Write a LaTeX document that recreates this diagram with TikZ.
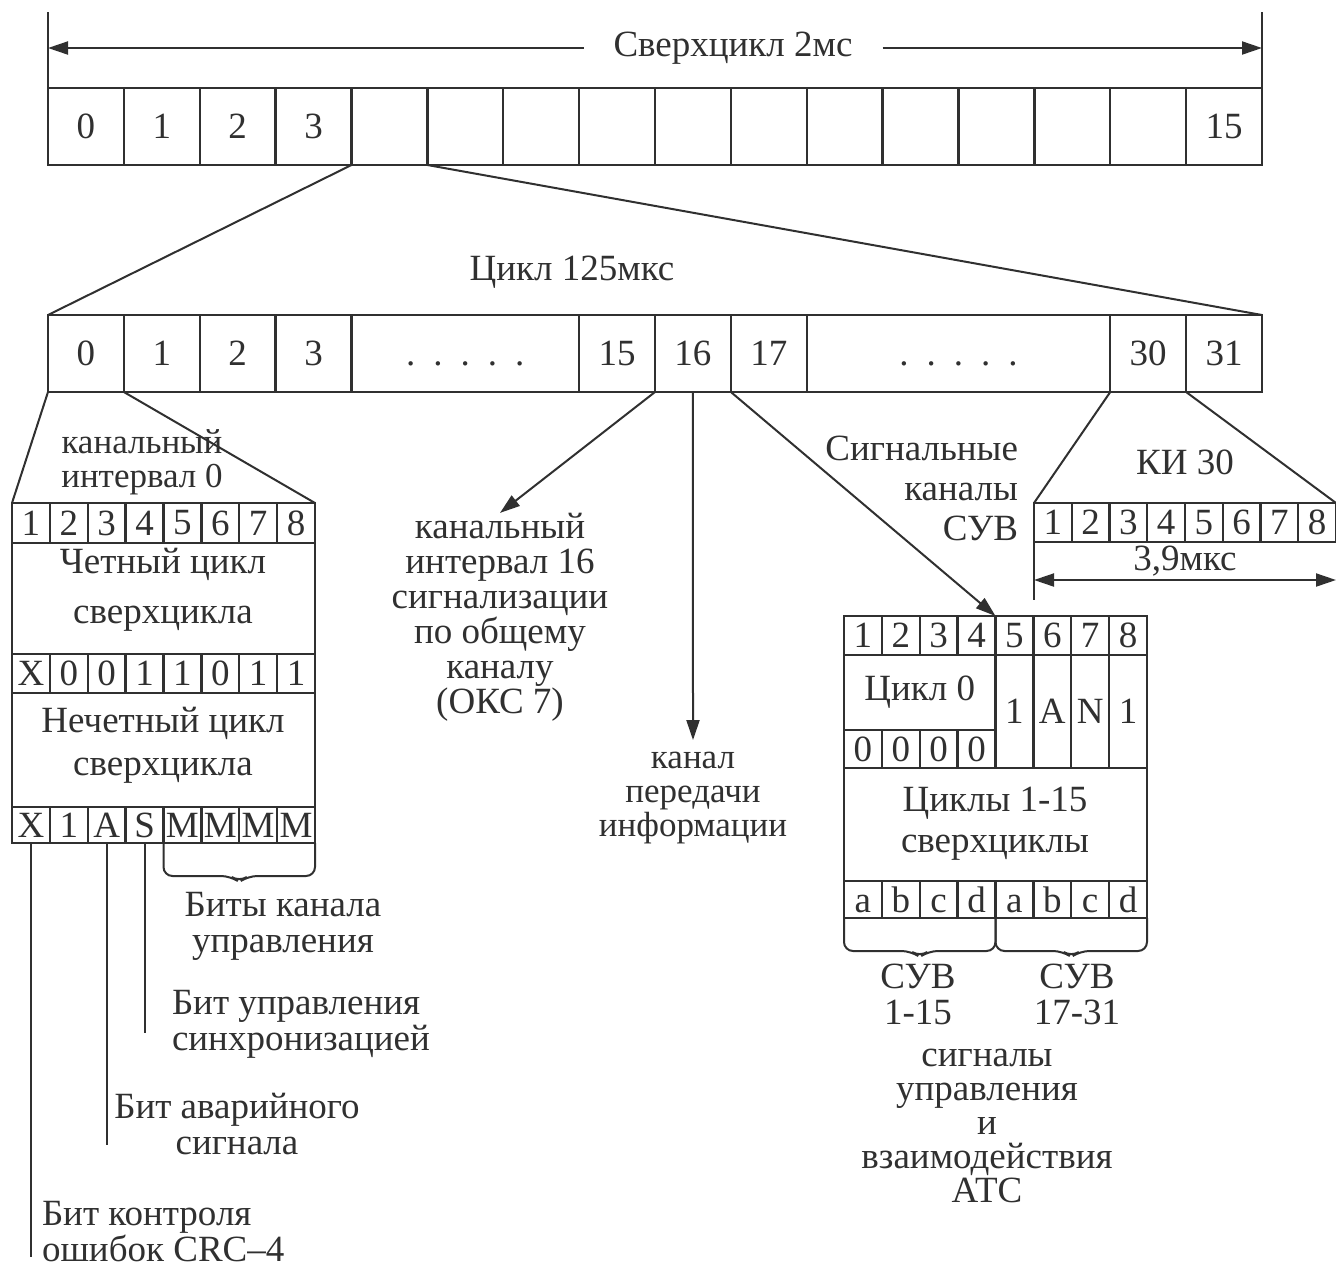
\documentclass[tikz,border=0pt]{standalone}
\usepackage{fontspec}
\setmainfont{Liberation Serif}
\usetikzlibrary{arrows.meta,calc}
\definecolor{ink}{RGB}{48,48,48}
\newcommand\cellat[6]{%
  \pgfmathsetmacro\mycw{(#4)-(#2)}\pgfmathsetmacro\mych{(#5)-(#3)}%
  \node[cellbox, minimum width=\mycw pt, minimum height=\mych pt] (#1) at ({((#2)+(#4))/2},{((#3)+(#5))/2}) {#6};}
\newcommand\bracepath[2]{% #1 left node anchor, #2 right node anchor
  ($(#1)!0.5!(#2)$) coordinate (bmid) 
  (#1) -- ([yshift=-33pt]#1) -- ([xshift=-9pt,yshift=-33pt]bmid) -- ([yshift=-39pt]bmid) -- ([xshift=9pt,yshift=-33pt]bmid) -- ([yshift=-33pt]#2) -- (#2)}
\begin{document}
\begin{tikzpicture}[x=1pt,y=-1pt,
  every node/.style={text=ink, font=\fontsize{37}{36}\selectfont, inner sep=0pt, outer sep=0pt},
  cellbox/.style={draw=ink, line width=2.3pt, align=center},
  ln/.style={draw=ink, line width=2pt},
  arr/.style={ln, -{Triangle[length=20pt,width=13pt]}},
  darr/.style={ln, {Triangle[length=20pt,width=13pt]}-{Triangle[length=20pt,width=13pt]}}]
\useasboundingbox (0,0) rectangle (1336,1270);

% ---------- superframe bar ----------
\def\U{75.875}
\foreach \i in {0,...,15}{\cellat{t\i}{48+\i*\U}{88}{48+(\i+1)*\U}{165}{}}
\node (t0l) at (t0) {0};
\node (t1l) at (t1) {1};
\node (t2l) at (t2) {2};
\node (t3l) at (t3) {3};
\node (t15l) at (t15) {15};
\coordinate (tlt) at (48,12);
\coordinate (trt) at (1262,12);
\draw[ln] (t0.north west) -- (tlt);
\draw[ln] (t15.north east) -- (trt);
\node[inner xsep=30pt] (sc) at (733,48) {Сверхцикл 2мс};
\draw[arr] (sc.west) -- (sc.west -| tlt);
\draw[arr] (sc.east) -- (sc.east -| trt);

% ---------- frame bar ----------
\node (cyc) at (572,272) {Цикл 125мкс};
\cellat{c0}{48}{315}{48+\U}{392}{0}
\cellat{c1}{48+\U}{315}{48+2*\U}{392}{1}
\cellat{c2}{48+2*\U}{315}{48+3*\U}{392}{2}
\cellat{c3}{48+3*\U}{315}{48+4*\U}{392}{3}
\cellat{cdA}{48+4*\U}{315}{48+7*\U}{392}{.\hspace{18pt}.\hspace{18pt}.\hspace{18pt}.\hspace{18pt}.\vphantom{0}}
\cellat{c15}{48+7*\U}{315}{48+8*\U}{392}{15}
\cellat{c16}{48+8*\U}{315}{48+9*\U}{392}{16}
\cellat{c17}{48+9*\U}{315}{48+10*\U}{392}{17}
\cellat{cdB}{48+10*\U}{315}{48+14*\U}{392}{.\hspace{18pt}.\hspace{18pt}.\hspace{18pt}.\hspace{18pt}.\vphantom{0}}
\cellat{c30}{48+14*\U}{315}{48+15*\U}{392}{30}
\cellat{c31}{48+15*\U}{315}{48+16*\U}{392}{31}
\draw[ln] (t4.south west) -- (c0.north west);
\draw[ln] (t4.south east) -- (c31.north east);

% ---------- time slot 0 box ----------
\def\W{37.875}
\foreach \i/\bl in {1/1,2/2,3/3,4/4,5/5,6/6,7/7,8/8}{\cellat{a\i}{12+(\i-1)*\W}{503}{12+\i*\W}{543}{\bl}}
\cellat{ev}{12}{543}{315}{654}{}
\node[align=center, font=\fontsize{37}{50}\selectfont] (evt) at (163,590) {Четный цикл\\сверхцикла};
\foreach \i/\bl in {1/X,2/0,3/0,4/1,5/1,6/0,7/1,8/1}{\cellat{b\i}{12+(\i-1)*\W}{654}{12+\i*\W}{693}{\bl}}
\cellat{od}{12}{693}{315}{807}{}
\node[align=center, font=\fontsize{37}{43}\selectfont] (odt) at (163,745) {Нечетный цикл\\сверхцикла};
\foreach \i/\bl in {1/X,2/1,3/A,4/S,5/M,6/M,7/M,8/M}{\cellat{d\i}{12+(\i-1)*\W}{807}{12+\i*\W}{843}{\bl}}
\draw[ln] (c0.south west) -- (a1.north west);
\draw[ln] (c0.south east) -- (a8.north east);
\node[align=center, font=\fontsize{35}{34}\selectfont] (ki0) at (142,462) {канальный\\интервал 0};

\coordinate (yX) at (0,1257);
\coordinate (yA) at (0,1145);
\coordinate (yS) at (0,1033);
\draw[ln] (d1.south) -- (d1.south |- yX);
\draw[ln] (d3.south) -- (d3.south |- yA);
\draw[ln] (d4.south) -- (d4.south |- yS);
\draw[ln, rounded corners=9pt] \bracepath{d5.south west}{d8.south east};

\node[align=center] (bkan) at (283,926) {Биты канала\\управления};
\node[align=left, anchor=west] (bsync) at (172,1024) {Бит управления\\синхронизацией};
\node[align=center] (bav) at (237,1124) {Бит аварийного\\сигнала};
\node[align=left, anchor=west] (bcrc) at (42,1232) {Бит контроля\\ошибок CRC–4};

% ---------- slot 16 ----------
\node[align=center, font=\fontsize{37}{35}\selectfont] (oks) at (500,617) {канальный\\интервал 16\\сигнализации\\по общему\\каналу\\(ОКС 7)};
\draw[arr] (c16.south west) -- (oks.north);
\node[align=center, font=\fontsize{35}{34}\selectfont, outer sep=12pt] (kpi) at (693,798) {канал\\передачи\\информации};
\draw[arr] (c16.south) -- (kpi.north);

% ---------- signalling box ----------
\node[align=right, anchor=east, font=\fontsize{37}{40}\selectfont] (sigk) at (1018,488) {Сигнальные\\каналы\\СУВ};
\foreach \i/\bl in {1/1,2/2,3/3,4/4,5/5,6/6,7/7,8/8}{\cellat{r\i}{844+(\i-1)*\W}{616}{844+\i*\W}{655}{\bl}}
\cellat{cz}{844}{655}{844+4*\W}{730}{Цикл 0}
\foreach \i/\bl in {1/0,2/0,3/0,4/0}{\cellat{z\i}{844+(\i-1)*\W}{730}{844+\i*\W}{768}{\bl}}
\foreach \i/\bl in {5/1,6/A,7/N,8/1}{\cellat{q\i}{844+(\i-1)*\W}{655}{844+\i*\W}{768}{\bl}}
\cellat{cyr}{844}{768}{1147}{881}{}
\node[align=center, font=\fontsize{37}{41}\selectfont] (cyrt) at (995,824) {Циклы 1-15\\сверхциклы};
\foreach \i/\bl in {1/a,2/b,3/c,4/d,5/a,6/b,7/c,8/d}{\cellat{s\i}{844+(\i-1)*\W}{881}{844+\i*\W}{918}{\bl\vphantom{b}}}
\draw[arr] (c17.south west) -- (r4.north east);
\draw[ln, rounded corners=9pt] \bracepath{s1.south west}{s4.south east};
\draw[ln, rounded corners=9pt] \bracepath{s5.south west}{s8.south east};
\node[align=center] (suv1) at (918,994) {СУВ\\1-15};
\node[align=center] (suv2) at (1077,994) {СУВ\\17-31};
\node[align=center, font=\fontsize{37}{34}\selectfont] (sigu) at (987,1126) {сигналы\\управления\\и\\взаимодействия\\АТС};

% ---------- slot 30 box ----------
\def\V{37.75}
\foreach \i/\bl in {1/1,2/2,3/3,4/4,5/5,6/6,7/7,8/8}{\cellat{k\i}{1034+(\i-1)*\V}{503}{1034+\i*\V}{542}{\bl}}
\draw[ln] (c30.south west) -- (k1.north west);
\draw[ln] (c31.south west) -- (k8.north east);
\node (ki30) at (1185,462) {КИ 30};
\coordinate (kbot) at (1034,600);
\draw[ln] (k1.south west) -- (kbot);
\coordinate (dl) at (1034,580);
\coordinate (dr) at (1336,580);
\draw[darr] (dl) -- (dr);
\node (t39) at (1185,561) {3,9мкс};
\end{tikzpicture}
\end{document}
